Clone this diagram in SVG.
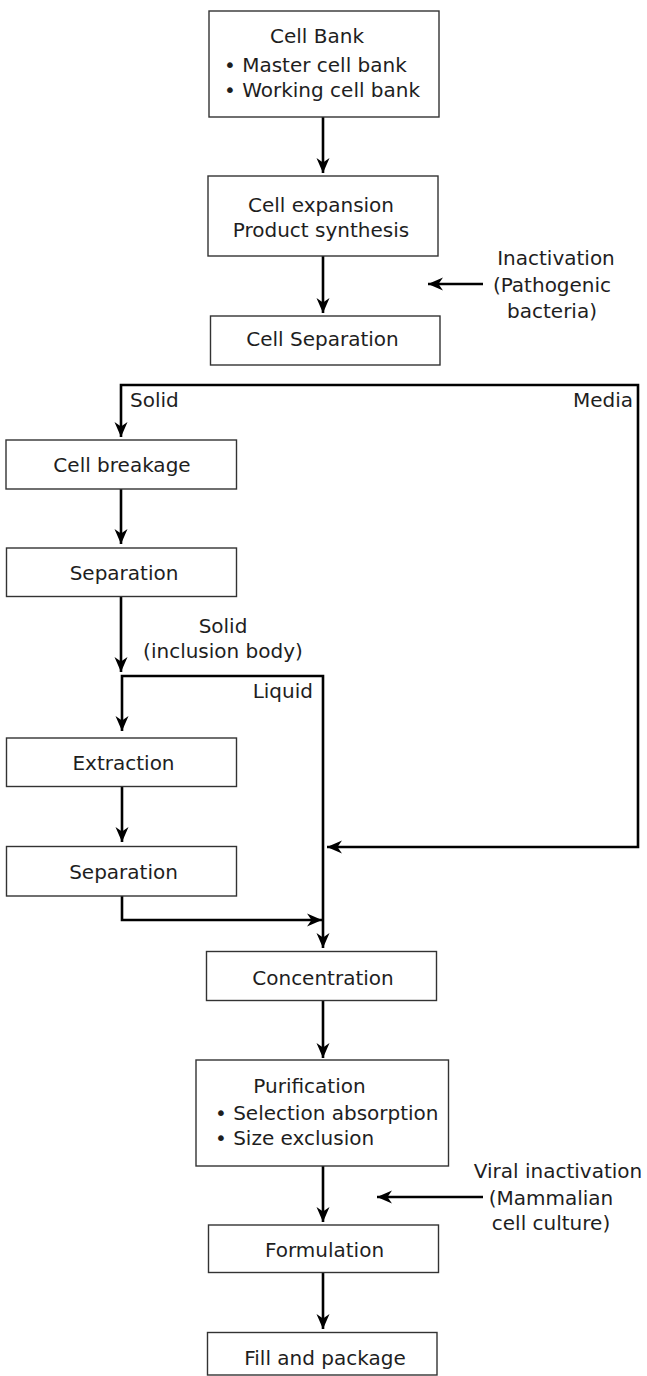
<svg xmlns="http://www.w3.org/2000/svg" width="647" height="1376" viewBox="0 0 647 1376">
  <style>
    .box { fill: #fff; stroke: #333; stroke-width: 1.4; }
    .t { font-family: "DejaVu Sans", "Noto Sans", sans-serif; font-size: 20px; fill: #1e1e1e; }
    .m { text-anchor: middle; }
    .e { text-anchor: end; }
    .c { fill: none; stroke: #000; stroke-width: 2.6; stroke-linejoin: miter; }
  </style>
  <defs>
    <marker id="ah" markerUnits="userSpaceOnUse" markerWidth="16" markerHeight="14" refX="15" refY="7" orient="auto-start-reverse" viewBox="0 0 16 14">
      <path d="M0,0.5 L15,7 L0,13.5 L4.5,7 z" fill="#000"/>
    </marker>
  </defs>
  <rect width="647" height="1376" fill="#fff"/>

  <g id="connectors">
    <path class="c" d="M323,117 L323,173" marker-end="url(#ah)"/>
    <path class="c" d="M323,256 L323,313" marker-end="url(#ah)"/>
    <path class="c" d="M483,284 L428,284" marker-end="url(#ah)"/>
    <path class="c" d="M121,437 L121,385 L638,385 L638,847 L327,847" marker-start="url(#ah)" marker-end="url(#ah)"/>
    <path class="c" d="M121,489 L121,544" marker-end="url(#ah)"/>
    <path class="c" d="M121,597 L121,672" marker-end="url(#ah)"/>
    <path class="c" d="M122,731 L122,676 L323,676 L323,948" marker-start="url(#ah)" marker-end="url(#ah)"/>
    <path class="c" d="M122,787 L122,842" marker-end="url(#ah)"/>
    <path class="c" d="M122,896 L122,920 L322,920" marker-end="url(#ah)"/>
    <path class="c" d="M323,1001 L323,1058" marker-end="url(#ah)"/>
    <path class="c" d="M323,1166 L323,1222" marker-end="url(#ah)"/>
    <path class="c" d="M483,1197 L377,1197" marker-end="url(#ah)"/>
    <path class="c" d="M323,1273 L323,1329" marker-end="url(#ah)"/>
  </g>

  <g id="labels">
    <text class="t" x="130" y="407">Solid</text>
    <text class="t e" x="633" y="407">Media</text>
    <text class="t m" x="223" y="633">Solid</text>
    <text class="t m" x="223" y="658">(inclusion body)</text>
    <text class="t e" x="313" y="698">Liquid</text>
  </g>

  <g id="cell-bank">
    <rect class="box" x="209" y="11" width="230" height="106"/>
    <text class="t m" x="317" y="43">Cell Bank</text>
    <text class="t" x="224" y="72">• Master cell bank</text>
    <text class="t" x="224" y="97">• Working cell bank</text>
  </g>

  <g id="cell-expansion">
    <rect class="box" x="208" y="176" width="230" height="80"/>
    <text class="t m" x="321" y="212">Cell expansion</text>
    <text class="t m" x="321" y="237">Product synthesis</text>
  </g>

  <g id="inactivation">
    <text class="t m" x="556" y="265">Inactivation</text>
    <text class="t m" x="552" y="292">(Pathogenic</text>
    <text class="t m" x="552" y="318">bacteria)</text>
  </g>

  <g id="cell-separation">
    <rect class="box" x="210.5" y="316" width="229.5" height="49"/>
    <text class="t m" x="322.5" y="346">Cell Separation</text>
  </g>

  <g id="cell-breakage">
    <rect class="box" x="6" y="440" width="230.5" height="49"/>
    <text class="t m" x="122" y="472">Cell breakage</text>
  </g>

  <g id="separation-1">
    <rect class="box" x="6.5" y="548" width="230" height="48.5"/>
    <text class="t m" x="124" y="580">Separation</text>
  </g>

  <g id="extraction">
    <rect class="box" x="6.5" y="738" width="230" height="48.5"/>
    <text class="t m" x="123.5" y="770">Extraction</text>
  </g>

  <g id="separation-2">
    <rect class="box" x="6.5" y="846.5" width="230" height="49.5"/>
    <text class="t m" x="123.5" y="879">Separation</text>
  </g>

  <g id="concentration">
    <rect class="box" x="206.5" y="951.5" width="230" height="49"/>
    <text class="t m" x="323" y="985">Concentration</text>
  </g>

  <g id="purification">
    <rect class="box" x="196" y="1060" width="252.5" height="106"/>
    <text class="t m" x="309.5" y="1093">Purification</text>
    <text class="t" x="215" y="1120">• Selection absorption</text>
    <text class="t" x="215" y="1145">• Size exclusion</text>
  </g>

  <g id="viral-inactivation">
    <text class="t m" x="558" y="1178">Viral inactivation</text>
    <text class="t m" x="551" y="1205">(Mammalian</text>
    <text class="t m" x="551" y="1230">cell culture)</text>
  </g>

  <g id="formulation">
    <rect class="box" x="208.5" y="1225" width="230" height="47.5"/>
    <text class="t m" x="324.5" y="1257">Formulation</text>
  </g>

  <g id="fill-package">
    <rect class="box" x="207.5" y="1332.5" width="229.5" height="42.5"/>
    <text class="t m" x="325" y="1365">Fill and package</text>
  </g>
</svg>
